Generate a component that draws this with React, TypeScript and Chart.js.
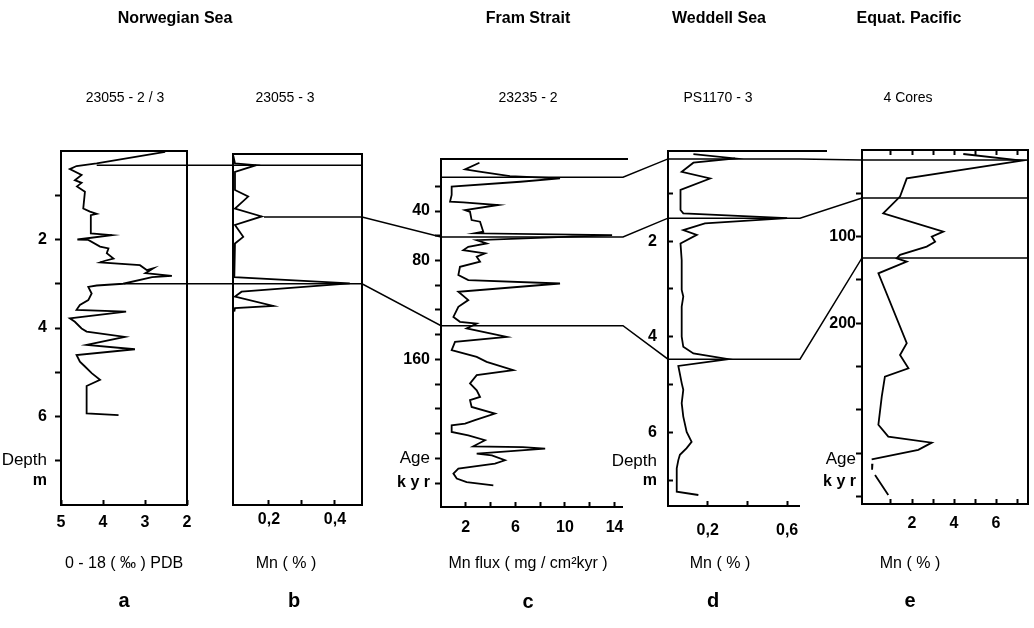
import React, { useEffect, useRef } from "react";
import { Chart, registerables } from "chart.js";

Chart.register(...registerables);

const FONT = "'Liberation Sans', Arial, Helvetica, sans-serif";

// ---------------- data ----------------
// a: Norwegian Sea 23055-2/3, delta18O (permil PDB) vs depth (m)
const A_DEPTH = [0.02, 0.28, 0.34, 0.41, 0.54, 0.66, 0.72, 0.8, 0.92, 1.3, 1.37, 1.42, 1.45, 1.86, 1.9, 2.0, 2.01, 2.16, 2.2, 2.31, 2.43, 2.48, 2.52, 2.58, 2.69, 2.65, 2.76, 2.82, 2.85, 3.0, 3.04, 3.07, 3.22, 3.37, 3.48, 3.59, 3.63, 3.78, 3.86, 4.01, 4.08, 4.2, 4.38, 4.48, 4.61, 4.76, 4.87, 5.02, 5.17, 5.31, 5.93, 5.97];
const A_D18O = [2.52, 4.15, 4.63, 4.79, 4.51, 4.67, 4.51, 4.62, 4.43, 4.47, 4.31, 4.15, 4.29, 4.29, 3.79, 4.61, 4.35, 4.07, 3.87, 3.91, 3.75, 3.95, 4.07, 3.12, 2.96, 2.8, 2.99, 2.36, 2.83, 3.52, 4.15, 4.35, 4.27, 4.35, 4.55, 4.63, 3.45, 4.79, 4.67, 4.51, 4.39, 3.48, 4.39, 3.24, 4.63, 4.55, 4.43, 4.27, 4.07, 4.39, 4.39, 3.63];

// b: Norwegian Sea 23055-3, Mn (%) vs depth (m)
const B_DEPTH = [0.11, 0.28, 0.32, 0.47, 0.88, 1.03, 1.3, 1.48, 1.67, 1.94, 2.09, 2.85, 2.99, 3.18, 3.29, 3.5, 3.55, 3.63];
const B_MN = [0.092, 0.097, 0.161, 0.097, 0.097, 0.137, 0.097, 0.178, 0.097, 0.122, 0.097, 0.095, 0.445, 0.117, 0.097, 0.213, 0.097, 0.095];

// c: Fram Strait 23235-2, Mn flux (mg/cm2 kyr) vs age (kyr)
const C_AGE = [0.9, 6.3, 8.2, 11.7, 13.6, 16.3, 20.3, 27, 32.4, 33, 35.1, 39.2, 40.6, 47.3, 48.6, 56.7, 58, 59.5, 63.5, 66.2, 68.9, 71.6, 74.3, 77, 81, 85.1, 91.8, 95.9, 98.6, 105.3, 112, 117.5, 125.6, 129.6, 131, 135, 141.8, 145.8, 152.5, 158, 162, 168.7, 172.8, 179.5, 185, 190.4, 193, 198.5, 203.8, 209.2, 212, 213.3, 218.7, 221.4, 225.4, 230.3, 230.9, 232.2, 236.2, 237.6, 241.6, 244.3, 248.3, 252.4, 256.4, 259.2, 261.9];
const C_FLUX = [3.1, 1.94, 3.1, 5.56, 9.6, 6.4, 0.86, 0.86, 0.73, 1.8, 4.62, 1.94, 2.34, 2.47, 3.15, 3.41, 2.74, 13.8, 2.88, 3.68, 2.2, 1.8, 3.55, 2.88, 3.15, 1.53, 1.4, 2.2, 9.6, 1.4, 2.2, 1.4, 1.0, 1.53, 2.88, 2.07, 5.3, 1.13, 0.86, 2.88, 3.68, 5.83, 2.88, 2.34, 2.88, 3.15, 2.34, 2.47, 4.35, 2.74, 1.94, 0.86, 0.86, 2.2, 3.55, 2.6, 6.6, 8.4, 2.88, 4.1, 5.16, 4.35, 1.4, 1.0, 1.27, 2.07, 4.22];

// d: Weddell Sea PS1170-3, Mn (%) vs depth (m)
const D_DEPTH = [0.18, 0.27, 0.36, 0.55, 0.69, 0.93, 1.35, 1.42, 1.52, 1.63, 1.77, 1.87, 2.05, 2.4, 3.02, 3.16, 3.37, 4.0, 4.21, 4.35, 4.47, 4.61, 4.97, 5.11, 5.39, 5.67, 5.99, 6.2, 6.33, 6.47, 6.58, 6.75, 7.24, 7.31];
const D_MN = [0.128, 0.338, 0.128, 0.069, 0.212, 0.063, 0.063, 0.077, 0.6, 0.186, 0.077, 0.145, 0.063, 0.069, 0.069, 0.077, 0.069, 0.069, 0.077, 0.128, 0.304, 0.052, 0.069, 0.077, 0.069, 0.077, 0.094, 0.119, 0.094, 0.06, 0.052, 0.044, 0.044, 0.153];

// e: Equatorial Pacific, 4 cores, Mn (%) vs age (kyr); null = gap
const E_AGE = [4.6, 12.3, 32.7, 53.8, 73, 94.2, 100, 105.8, 111.5, 121, 125, 128.8, 142.3, 223, 236.5, 252, 261.5, 284.6, 317, 330.8, 337.7, 346, 357, null, 362, 369, null, 375, 398];
const E_MN = [4.44, 7.22, 1.75, 1.43, 0.63, 3.49, 2.94, 3.1, 2.7, 1.43, 1.27, 1.75, 0.4, 1.75, 1.43, 1.83, 0.71, 0.56, 0.4, 0.87, 2.94, 2.3, 0.08, null, 0.12, 0.1, null, 0.24, 0.87];

// tick values and labels
const A_XTICKS = [2, 3, 4, 5];
const A_XLABELS = ["2", "3", "4", "5"];
const A_YTICKS = [1, 2, 3, 4, 5, 6, 7, 7.45];
const A_YLABELS = ["", "2", "", "4", "", "6", "Depth", "m"];
const A_YUNMARKED = [7.45];

const B_XTICKS = [0.2, 0.3, 0.4];
const B_XLABELS = ["0,2", "", "0,4"];

const C_XTICKS = [2, 4, 6, 8, 10, 12, 14];
const C_XLABELS = ["2", "", "6", "", "10", "", "14"];
const C_YTICKS = [20, 40, 60, 80, 100, 120, 140, 160, 180, 200, 220, 240, 260];
const C_YLABELS = ["", "40", "", "80", "", "", "", "160", "", "", "", "Age", "k y r"];
const C_YUNMARKED: number[] = [];

const D_XTICKS = [0.2, 0.4, 0.6];
const D_XLABELS = ["0,2", "", "0,6"];
const D_YTICKS = [1, 2, 3, 4, 5, 6, 6.6, 7];
const D_YLABELS = ["", "2", "", "4", "", "6", "Depth", "m"];
const D_YUNMARKED = [6.6];

const E_XTICKS = [1, 2, 3, 4, 5, 6, 7];
const E_XLABELS = ["", "2", "", "4", "", "6", ""];
const E_YTICKS = [50, 100, 150, 200, 250, 300, 350, 357, 383, 400];
const E_YLABELS = ["", "100", "", "200", "", "", "", "Age", "k y r", ""];
const E_YUNMARKED = [357, 383];

// correlation (tie) lines: start value on first panel's x axis, then [panel, depth/age]
const TIE_1: [string, number][] = [["a", 0.32], ["b", 0.32]];
const TIE_2: [string, number][] = [["b", 1.49], ["c", 61], ["d", 1.52], ["e", 55.4]];
const TIE_3: [string, number][] = [["a", 3.0], ["b", 3.0], ["c", 132.7], ["d", 4.47], ["e", 124.6]];
const TIE_4: [string, number][] = [["c", 12.7], ["d", 0.28], ["e", 11.5]];
const TIE_STARTS = [4.15, 0.185, 3.5, 0];
const TIES = [TIE_1, TIE_2, TIE_3, TIE_4];

// ---------------- layout (pixel boxes of the scales) ----------------
type Box = { left: number; right: number; top: number; bottom: number };
const SCALE_BOXES: Record<string, Box> = {
  xa: { left: 61, right: 187, top: 505, bottom: 548 },
  ya: { left: 0, right: 61, top: 151, bottom: 505 },
  xb: { left: 233, right: 362, top: 505, bottom: 548 },
  yb: { left: 200, right: 233, top: 154, bottom: 505 },
  xc: { left: 441, right: 623, top: 507, bottom: 550 },
  yc: { left: 380, right: 441, top: 159, bottom: 507 },
  xd: { left: 668, right: 800, top: 506, bottom: 552 },
  yd: { left: 600, right: 668, top: 151, bottom: 506 },
  xe: { left: 862, right: 1028, top: 504, bottom: 548 },
  xe2: { left: 862, right: 1028, top: 130, bottom: 150 },
  ye: { left: 805, right: 862, top: 150, bottom: 504 },
};
const PANEL_KEYS = ["a", "b", "c", "d", "e"];
const CLOSED_PANELS = ["a", "b", "e"];
const TOP_LINE_END: Record<string, number> = { c: 628, d: 827 };

const TEXTS = [
  { t: "Norwegian Sea", x: 175, y: 18, s: 16, w: 700 },
  { t: "Fram Strait", x: 528, y: 18, s: 16, w: 700 },
  { t: "Weddell Sea", x: 719, y: 18, s: 16, w: 700 },
  { t: "Equat. Pacific", x: 909, y: 18, s: 16, w: 700 },
  { t: "23055 - 2 / 3", x: 125, y: 97, s: 14, w: 400 },
  { t: "23055 - 3", x: 285, y: 97, s: 14, w: 400 },
  { t: "23235 - 2", x: 528, y: 97, s: 14, w: 400 },
  { t: "PS1170 - 3", x: 718, y: 97, s: 14, w: 400 },
  { t: "4 Cores", x: 908, y: 97, s: 14, w: 400 },
  { t: "0 - 18 ( ‰ ) PDB", x: 124, y: 563, s: 16, w: 400 },
  { t: "Mn ( % )", x: 286, y: 563, s: 16, w: 400 },
  { t: "Mn flux ( mg / cm²kyr )", x: 528, y: 563, s: 16, w: 400 },
  { t: "Mn ( % )", x: 720, y: 563, s: 16, w: 400 },
  { t: "Mn ( % )", x: 910, y: 563, s: 16, w: 400 },
  { t: "a", x: 124, y: 600, s: 20, w: 700 },
  { t: "b", x: 294, y: 600, s: 20, w: 700 },
  { t: "c", x: 528, y: 601, s: 20, w: 700 },
  { t: "d", x: 713, y: 600, s: 20, w: 700 },
  { t: "e", x: 910, y: 600, s: 20, w: 700 },
];

// ---------------- helpers ----------------
const near = (a: number, b: number) => Math.abs(a - b) < 1e-6;

const tickFont = (ctx: any) => {
  const lab = ctx && ctx.tick ? ctx.tick.label : "";
  if (lab === "Depth" || lab === "Age") return { family: FONT, size: 17, weight: "normal" };
  return { family: FONT, size: 16, weight: "bold" };
};

function xAxis(min: number, max: number, ticks: number[], labels: string[], padding: number, reverse = false) {
  return {
    type: "linear",
    axis: "x",
    position: "bottom",
    min,
    max,
    reverse,
    afterBuildTicks: (s: any) => {
      s.ticks = ticks.map((v) => ({ value: v }));
    },
    ticks: {
      autoSkip: false,
      maxRotation: 0,
      minRotation: 0,
      padding,
      color: "#000",
      font: tickFont,
      callback: (v: number) => {
        const i = ticks.findIndex((t) => near(t, v));
        return i >= 0 ? labels[i] : "";
      },
    },
    grid: { display: true, drawOnChartArea: false, drawTicks: true, tickLength: -5, tickColor: "#000", tickWidth: 2 },
    border: { display: false },
  };
}

function yAxis(min: number, max: number, ticks: number[], labels: string[], unmarked: number[], tickLength: number, padding: number) {
  return {
    type: "linear",
    axis: "y",
    position: "left",
    min,
    max,
    reverse: true,
    afterBuildTicks: (s: any) => {
      s.ticks = ticks.map((v) => ({ value: v }));
    },
    ticks: {
      autoSkip: false,
      padding,
      color: "#000",
      font: tickFont,
      callback: (v: number) => {
        const i = ticks.findIndex((t) => near(t, v));
        return i >= 0 ? labels[i] : "";
      },
    },
    grid: {
      display: true,
      drawOnChartArea: false,
      drawTicks: true,
      tickLength,
      tickWidth: 2,
      tickColor: (ctx: any) =>
        ctx.tick && unmarked.some((u) => near(u, ctx.tick.value)) ? "rgba(0,0,0,0)" : "#000",
    },
    border: { display: false },
  };
}

const zip = (xs: (number | null)[], ys: (number | null)[]) => xs.map((x, i) => ({ x, y: ys[i] }));

const series = (data: any[], xId: string, yId: string) => ({
  data,
  xAxisID: xId,
  yAxisID: yId,
  showLine: true,
  borderColor: "#000",
  borderWidth: 1.8,
  pointRadius: 0,
  pointHoverRadius: 0,
  tension: 0,
  spanGaps: false,
  clip: false,
});

// ---------------- plugins ----------------
const placeScales = {
  id: "placeScales",
  afterLayout(chart: any) {
    Object.keys(SCALE_BOXES).forEach((id) => {
      const s = chart.scales[id];
      if (!s) return;
      const b = SCALE_BOXES[id];
      s.left = b.left;
      s.right = b.right;
      s.top = b.top;
      s.bottom = b.bottom;
      s.width = b.right - b.left;
      s.height = b.bottom - b.top;
      s.configure();
    });
  },
};

const frames = {
  id: "frames",
  beforeDatasetsDraw(chart: any) {
    const ctx = chart.ctx;
    ctx.save();
    ctx.strokeStyle = "#000";
    ctx.lineWidth = 2;
    ctx.lineJoin = "miter";
    PANEL_KEYS.forEach((k) => {
      const xs = chart.scales["x" + k];
      const ys = chart.scales["y" + k];
      const L = xs.left, R = xs.right, T = ys.top, B = ys.bottom;
      ctx.beginPath();
      if (CLOSED_PANELS.includes(k)) {
        ctx.rect(L, T, R - L, B - T);
      } else {
        ctx.moveTo(TOP_LINE_END[k], T);
        ctx.lineTo(L, T);
        ctx.lineTo(L, B);
        ctx.lineTo(R, B);
      }
      ctx.stroke();
    });
    ctx.restore();
  },
};

const tieLines = {
  id: "tieLines",
  afterDatasetsDraw(chart: any) {
    const ctx = chart.ctx;
    ctx.save();
    ctx.strokeStyle = "#000";
    ctx.lineWidth = 1.5;
    TIES.forEach((tie, ti) => {
      ctx.beginPath();
      tie.forEach(([k, v], i) => {
        const xs = chart.scales["x" + k];
        const ys = chart.scales["y" + k];
        const y = ys.getPixelForValue(v);
        const x0 = i === 0 ? xs.getPixelForValue(TIE_STARTS[ti]) : xs.left;
        if (i === 0) ctx.moveTo(x0, y);
        else ctx.lineTo(x0, y);
        ctx.lineTo(xs.right, y);
      });
      ctx.stroke();
    });
    ctx.restore();
  },
};

export default function App() {
  const ref = useRef<HTMLCanvasElement | null>(null);

  useEffect(() => {
    if (!ref.current) return;
    const chart = new Chart(ref.current, {
      type: "scatter",
      data: {
        datasets: [
          series(zip(A_D18O, A_DEPTH), "xa", "ya"),
          series(zip(B_MN, B_DEPTH), "xb", "yb"),
          series(zip(C_FLUX, C_AGE), "xc", "yc"),
          series(zip(D_MN, D_DEPTH), "xd", "yd"),
          series(zip(E_MN, E_AGE), "xe", "ye"),
        ] as any,
      },
      options: {
        responsive: false,
        maintainAspectRatio: false,
        devicePixelRatio: 1,
        animation: false,
        events: [],
        layout: { padding: 0 },
        plugins: { legend: { display: false }, tooltip: { enabled: false }, title: { display: false } },
        scales: {
          x: { display: false },
          y: { display: false },
          xa: xAxis(2, 5, A_XTICKS, A_XLABELS, 13, true),
          ya: yAxis(0, 8, A_YTICKS, A_YLABELS, A_YUNMARKED, 6, 8),
          xb: xAxis(0.091, 0.482, B_XTICKS, B_XLABELS, 10),
          yb: {
            type: "linear",
            axis: "y",
            position: "left",
            min: 0.068,
            max: 8,
            reverse: true,
            ticks: { display: false },
            grid: { display: false },
            border: { display: false },
          },
          xc: xAxis(0, 14.68, C_XTICKS, C_XLABELS, 16),
          yc: yAxis(-2.1, 279.4, C_YTICKS, C_YLABELS, C_YUNMARKED, 6, 5),
          xd: xAxis(0, 0.665, D_XTICKS, D_XLABELS, 20),
          yd: yAxis(0.115, 7.54, D_YTICKS, D_YLABELS, D_YUNMARKED, -5, 16),
          xe: xAxis(-0.38, 7.52, E_XTICKS, E_XLABELS, 15),
          xe2: {
            ...xAxis(-0.38, 7.52, E_XTICKS, E_XLABELS, 0),
            position: "top",
            ticks: { display: false },
          },
          ye: yAxis(0, 408.5, E_YTICKS, E_YLABELS, E_YUNMARKED, 6, 0),
        } as any,
      },
      plugins: [placeScales, frames, tieLines],
    } as any);
    return () => chart.destroy();
  }, []);

  return (
    <div
      style={{
        position: "fixed",
        left: 0,
        top: 0,
        width: 1034,
        height: 628,
        background: "#fff",
        fontFamily: FONT,
        color: "#000",
      }}
    >
      <canvas
        ref={ref}
        width={1034}
        height={628}
        style={{ position: "absolute", left: 0, top: 0, width: 1034, height: 628 }}
      />
      {TEXTS.map((t, i) => (
        <div
          key={i}
          style={{
            position: "absolute",
            left: t.x,
            top: t.y,
            transform: "translate(-50%, -50%)",
            fontSize: t.s,
            fontWeight: t.w,
            lineHeight: 1,
            whiteSpace: "nowrap",
          }}
        >
          {t.t}
        </div>
      ))}
    </div>
  );
}
